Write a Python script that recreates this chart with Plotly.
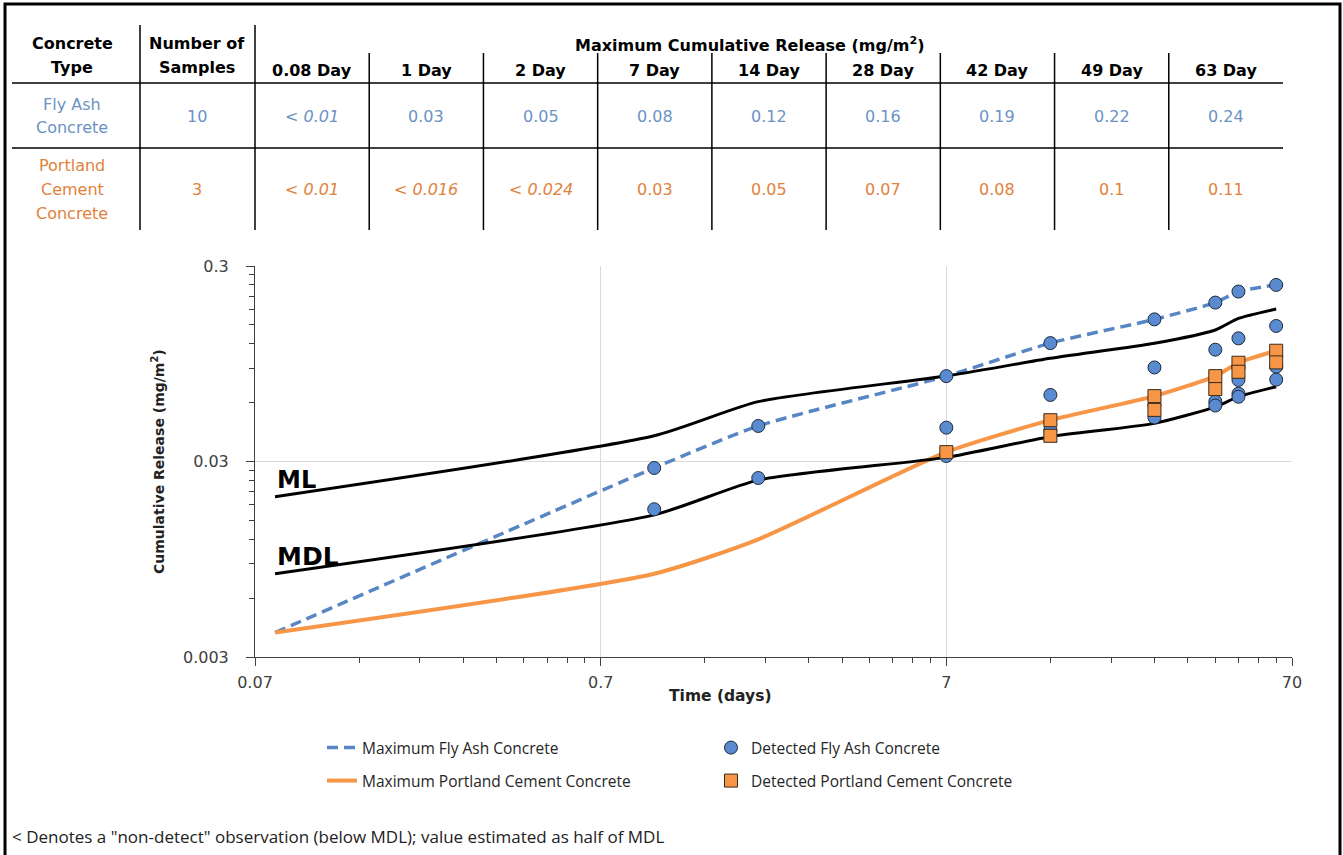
import math
import plotly.graph_objects as go

# ---------------- data ----------------
days = [0.08, 1, 2, 7, 14, 28, 42, 49, 63]
day_labels = ["0.08 Day", "1 Day", "2 Day", "7 Day", "14 Day", "28 Day", "42 Day", "49 Day", "63 Day"]
fly_ash_table = ["< 0.01", "0.03", "0.05", "0.08", "0.12", "0.16", "0.19", "0.22", "0.24"]
portland_table = ["< 0.01", "< 0.016", "< 0.024", "0.03", "0.05", "0.07", "0.08", "0.1", "0.11"]
fly_ash_samples = "10"
portland_samples = "3"

max_fly_ash = [0.004, 0.0278, 0.0456, 0.082, 0.121, 0.160, 0.195, 0.222, 0.240]
max_portland = [0.004, 0.008, 0.012, 0.0335, 0.0488, 0.0648, 0.082, 0.096, 0.1106]
ml_values = [0.0198, 0.0406, 0.0607, 0.0821, 0.1011, 0.1207, 0.1412, 0.1619, 0.1808]
mdl_values = [0.0080, 0.0160, 0.0241, 0.0315, 0.0402, 0.0470, 0.0571, 0.0644, 0.0724]

det_fly_days = [1, 1, 2, 2, 7, 7, 7, 14, 14, 14, 28, 28, 28, 28,
                42, 42, 42, 42, 49, 49, 49, 49, 49, 63, 63, 63, 63]
det_fly_vals = [0.0278, 0.0171, 0.0456, 0.0247, 0.082, 0.0447, 0.032,
                0.121, 0.0657, 0.0434, 0.160, 0.0908, 0.0583, 0.0504,
                0.195, 0.112, 0.0608, 0.058, 0.222, 0.128, 0.0784, 0.0667, 0.0643,
                0.240, 0.148, 0.0916, 0.0787]
det_pc_days = [7, 14, 14, 28, 28, 42, 42, 49, 49, 63, 63]
det_pc_vals = [0.0335, 0.0488, 0.0406, 0.0648, 0.0551, 0.082, 0.0704, 0.096, 0.0863, 0.1106, 0.0964]

x_major = [0.07, 0.7, 7, 70]
x_major_text = ["0.07", "0.7", "7", "70"]
y_major = [0.003, 0.03, 0.3]
y_major_text = ["0.003", "0.03", "0.3"]
x_minor = [round(b * k, 4) for b in [0.07, 0.7, 7] for k in range(2, 10)]
y_minor = [round(b * k, 5) for b in [0.003, 0.03] for k in range(2, 10)]

# ---------------- layout helpers ----------------
W, H = 1343, 855
ML, MR, MT, MB = 255, 51, 266, 198
PW, PH = W - ML - MR, H - MT - MB


def px(x):
    return (x - ML) / PW


def py(y):
    return (H - MB - y) / PH


FONT = "DejaVu Sans"
FONT2 = "Open Sans"
BLUE_TXT = "#6C92C4"
ORANGE_TXT = "#E0823D"
AX = "#404040"
SMOOTH = 0.6

fig = go.Figure()

fig.add_trace(go.Scatter(
    x=days, y=max_fly_ash, mode="lines", name="Maximum Fly Ash Concrete",
    line=dict(color="#5886C4", width=3.5, dash="11px,6px", shape="spline", smoothing=SMOOTH),
    legend="legend"))
fig.add_trace(go.Scatter(
    x=days, y=max_portland, mode="lines", name="Maximum Portland Cement Concrete",
    line=dict(color="#F79646", width=4, shape="spline", smoothing=SMOOTH),
    legend="legend2"))
fig.add_trace(go.Scatter(
    x=days, y=ml_values, mode="lines", name="ML", showlegend=False,
    line=dict(color="black", width=3, shape="spline", smoothing=SMOOTH)))
fig.add_trace(go.Scatter(
    x=days, y=mdl_values, mode="lines", name="MDL", showlegend=False,
    line=dict(color="black", width=3, shape="spline", smoothing=SMOOTH)))
fig.add_trace(go.Scatter(
    x=det_fly_days, y=det_fly_vals, mode="markers", name="Detected Fly Ash Concrete",
    marker=dict(symbol="circle", size=13, color="#5A8BD0", line=dict(color="#1E2A3A", width=1)),
    legend="legend"))
fig.add_trace(go.Scatter(
    x=det_pc_days, y=det_pc_vals, mode="markers", name="Detected Portland Cement Concrete",
    marker=dict(symbol="square", size=13, color="#F79646", line=dict(color="#3A2A1A", width=1)),
    legend="legend2"))

xr = [math.log10(0.07), math.log10(70)]
yr = [math.log10(0.003), math.log10(0.3)]

tick_font = dict(family=FONT, size=16, color=AX)

fig.update_layout(
    width=W, height=H,
    margin=dict(l=ML, r=MR, t=MT, b=MB),
    paper_bgcolor="white", plot_bgcolor="white",
    font=dict(family=FONT, color="#222"),
    xaxis=dict(type="log", range=xr, tickmode="array", tickvals=x_major, ticktext=x_major_text,
               ticks="outside", ticklen=8, tickwidth=1, tickcolor=AX,
               showline=True, linecolor=AX, linewidth=1,
               showgrid=True, gridcolor="#D9D9D9", gridwidth=1, zeroline=False,
               tickfont=tick_font, ticklabelstandoff=3,
               minor=dict(tickmode="array", tickvals=x_minor, ticks="outside", ticklen=5,
                          tickcolor=AX, tickwidth=1, showgrid=False)),
    yaxis=dict(type="log", range=yr, tickmode="array", tickvals=y_major, ticktext=y_major_text,
               ticks="outside", ticklen=8, tickwidth=1, tickcolor=AX,
               showline=True, linecolor=AX, linewidth=1,
               showgrid=True, gridcolor="#D9D9D9", gridwidth=1, zeroline=False,
               tickfont=tick_font, ticklabelstandoff=14,
               minor=dict(tickmode="array", tickvals=y_minor, ticks="outside", ticklen=5,
                          tickcolor=AX, tickwidth=1, showgrid=False)),
    xaxis2=dict(type="log", range=xr, overlaying="x", anchor="y2", side="bottom",
                tickmode="array", tickvals=x_major, ticks="inside", ticklen=8, tickcolor=AX,
                showticklabels=False, showgrid=False, showline=False, zeroline=False,
                minor=dict(tickmode="array", tickvals=x_minor, ticks="inside", ticklen=5,
                           tickcolor=AX, showgrid=False)),
    yaxis2=dict(type="log", range=yr, overlaying="y", anchor="x2", side="left",
                tickmode="array", tickvals=y_major, ticks="inside", ticklen=8, tickcolor=AX,
                showticklabels=False, showgrid=False, showline=False, zeroline=False,
                minor=dict(tickmode="array", tickvals=y_minor, ticks="inside", ticklen=5,
                           tickcolor=AX, showgrid=False)),
    legend=dict(orientation="h", x=px(322), xanchor="left", y=py(748), yanchor="middle",
                entrywidth=344, font=dict(family=FONT2, size=15.5, color="#262626"),
                bgcolor="rgba(0,0,0,0)"),
    legend2=dict(orientation="h", x=px(322), xanchor="left", y=py(781), yanchor="middle",
                 entrywidth=344, font=dict(family=FONT2, size=15.5, color="#262626"),
                 bgcolor="rgba(0,0,0,0)"),
    showlegend=True,
)

ann = []


def text(x, y, s, size=16, color="black", bold=False, italic=False, xanchor="center", family=FONT, **kw):
    if bold:
        s = "<b>" + s + "</b>"
    if italic:
        s = "<i>" + s + "</i>"
    ann.append(dict(xref="paper", yref="paper", x=px(x), y=py(y), text=s, showarrow=False,
                    xanchor=xanchor, yanchor="middle",
                    font=dict(family=family, size=size, color=color), **kw))


# ---------------- table ----------------
col_edges = [255 + i * (1283 - 255) / 9 for i in range(10)]
text(72, 43, "Concrete", bold=True)
text(72, 67, "Type", bold=True)
text(197, 43, "Number of", bold=True)
text(197, 67, "Samples", bold=True)
text(750, 44, "Maximum Cumulative Release (mg/m<sup>2</sup>)", bold=True)
for i, lab in enumerate(day_labels):
    cx = (col_edges[i] + col_edges[i + 1]) / 2
    text(cx, 70, lab, bold=True)
    fv = fly_ash_table[i]
    text(cx, 116, fv, color=BLUE_TXT, italic=fv.startswith("<"))
    pv = portland_table[i]
    text(cx, 189, pv, color=ORANGE_TXT, italic=pv.startswith("<"))
text(72, 104, "Fly Ash", color=BLUE_TXT)
text(72, 128, "Concrete", color=BLUE_TXT)
text(197, 116, fly_ash_samples, color=BLUE_TXT)
text(72, 165, "Portland", color=ORANGE_TXT)
text(72, 189, "Cement", color=ORANGE_TXT)
text(72, 213, "Concrete", color=ORANGE_TXT)
text(197, 189, portland_samples, color=ORANGE_TXT)

# axis titles
text(720, 696, "Time (days)", size=15.5, bold=True, color="#222")
text(158, 462, "Cumulative Release (mg/m<sup>2</sup>)", size=14, bold=True, color="#222", textangle=-90)

# footnote
text(10, 836, '&lt; Denotes a "non-detect" observation (below MDL); value estimated as half of MDL',
     size=17, color="#222", xanchor="left", family=FONT2)

# ML / MDL labels
ann.append(dict(xref="x", yref="y", x=math.log10(days[0]), y=math.log10(ml_values[0]), text="<b>ML</b>",
                showarrow=False, xanchor="left", yanchor="bottom", yshift=1,
                font=dict(family=FONT, size=24, color="black")))
ann.append(dict(xref="x", yref="y", x=math.log10(days[0]), y=math.log10(mdl_values[0]), text="<b>MDL</b>",
                showarrow=False, xanchor="left", yanchor="bottom", yshift=1,
                font=dict(family=FONT, size=25, color="black")))
fig.update_layout(annotations=ann)

# table lines and frame
shapes = []


def seg(x0, y0, x1, y1, w=1.5, c="black"):
    shapes.append(dict(type="line", xref="paper", yref="paper", x0=px(x0), y0=py(y0), x1=px(x1), y1=py(y1),
                       line=dict(color=c, width=w)))


seg(12, 83, 1283, 83)
seg(12, 148, 1283, 148)
seg(140, 25, 140, 230)
seg(255, 25, 255, 230)
for e in col_edges[1:-1]:
    seg(e, 53, e, 230)
shapes.append(dict(type="rect", xref="paper", yref="paper", x0=px(5), x1=px(1340), y0=py(870), y1=py(4),
                   line=dict(color="black", width=3)))
fig.update_layout(shapes=shapes)

fig.write_html("out.html", config={"displayModeBar": False},
               post_script="document.body.style.margin='0px';")
